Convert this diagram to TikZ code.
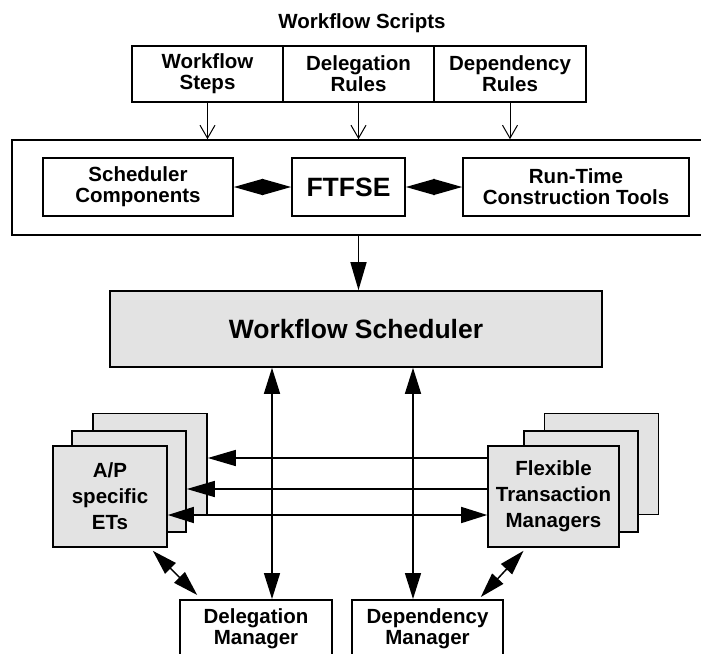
\documentclass[tikz,border=0pt]{standalone}
\usepackage{fontspec}
\setmainfont{Liberation Sans}
\usetikzlibrary{arrows.meta,calc}
\tikzset{
  box/.style={draw, line width=1.6pt, inner sep=0pt, align=center, font=\fontsize{20.5}{21}\selectfont\bfseries},
  greybox/.style={box, fill=black!11},
  stackbox/.style={greybox, minimum width=114pt, minimum height=101pt, font=\fontsize{20.5}{26}\selectfont\bfseries},
  bigtext/.style={font=\fontsize{26.5}{28}\selectfont\bfseries},
  thinarr/.style={line width=1pt, -{Straight Barb[length=13pt,width=15pt]}},
  arr/.style={line width=1.5pt, -{Triangle[length=28pt,width=16pt]}},
  dblarr/.style={line width=1.5pt, {Triangle[length=26pt,width=16pt]}-{Triangle[length=26pt,width=16pt]}},
  diamarr/.style={line width=1.5pt, {Triangle[length=29pt,width=16pt]}-{Triangle[length=29pt,width=16pt]}},
  diagarr/.style={line width=1.5pt, {Triangle[length=25pt,width=15pt]}-{Triangle[length=25pt,width=15pt]}},
}

\begin{document}
\begin{tikzpicture}[x=1pt,y=-1pt]
		%%%%% START %%%%%
		\useasboundingbox (0,0) rectangle (701,653);
		\clip (0,0) rectangle (701,653);
		
		\node[font=\fontsize{20.5}{21}\selectfont\bfseries] (title) at (362,23) {Workflow Scripts};
		
		\node[box, minimum width=151pt, minimum height=56pt] (steps) at (207.5,74) {Workflow\\Steps};
		\node[box, minimum width=151pt, minimum height=56pt] (delr) at (358.5,74) {Delegation\\Rules};
		\node[box, minimum width=152pt, minimum height=56pt] (depr) at (510,74) {Dependency\\Rules};
		
		\node[box, minimum width=700pt, minimum height=95pt] (outer) at (362,187.5) {};
		\node[box, minimum width=190pt, minimum height=58pt] (schedc) at (138,187) {Scheduler\\Components};
		\node[box, bigtext, minimum width=113pt, minimum height=58pt] (ftfse) at (348.5,187) {FTFSE};
		\node[box, minimum width=226pt, minimum height=58pt] (rtct) at (576,187) {Run-Time\\Construction Tools};
		
		\draw[thinarr] (steps) -- (steps |- outer.north);
		\draw[thinarr] (delr) -- (delr |- outer.north);
		\draw[thinarr] (depr) -- (depr |- outer.north);
		
		\draw[diamarr] (schedc) -- (ftfse);
		\draw[diamarr] (ftfse) -- (rtct);
		
		\node[greybox, bigtext, minimum width=492pt, minimum height=76pt] (ws) at (356,329) {Workflow Scheduler};
		\draw[arr] (outer.south -| delr) -- (ws.north -| delr);
		
		% stacks
		\node[stackbox] (ap3) at (150,464) {};
		\node[stackbox] (ap2) at (129,481.5) {};
		\node[stackbox] (ap1) at (110,496.5) {A/P\\specific\\ETs};
		
		\node[stackbox] (ftm3) at (601.5,464) {};
		\node[stackbox] (ftm2) at (581,481.5) {};
		\node[stackbox, minimum width=131pt] (ftm1) at (553.5,496.5) {Flexible\\Transaction\\Managers};
		
		\node[box, anchor=north, minimum width=152pt, minimum height=58pt] (dm) at (256,599) {Delegation\\Manager};
		\node[box, anchor=north, minimum width=151pt, minimum height=58pt] (dep) at (427.5,599) {Dependency\\Manager};
		
		\coordinate (h1) at (0,458);
		\coordinate (h2) at (0,489);
		\coordinate (h3) at (0,515);
		\coordinate (v1) at (272,0);
		\coordinate (v2) at (413,0);
		
		\draw[arr] (ftm1.west |- h1) -- (ap3.east |- h1);
		\draw[arr] (ftm1.west |- h2) -- (ap2.east |- h2);
		\draw[dblarr] (ftm1.west |- h3) -- (ap1.east |- h3);
		
		\draw[dblarr] (ws.south -| v1) -- (dm.north -| v1);
		\draw[dblarr] (ws.south -| v2) -- (dep.north -| v2);
		
		\draw[diagarr] ($(ap1.south east)+(-15,3)$) -- ($(dm.north west)+(18,-4)$);
		\draw[diagarr] ($(ftm1.south)+(-30,3)$) -- ($(dep.north east)+(-23,-2)$);
		
		%%%%% END %%%%%
\end{tikzpicture}
\end{document}
